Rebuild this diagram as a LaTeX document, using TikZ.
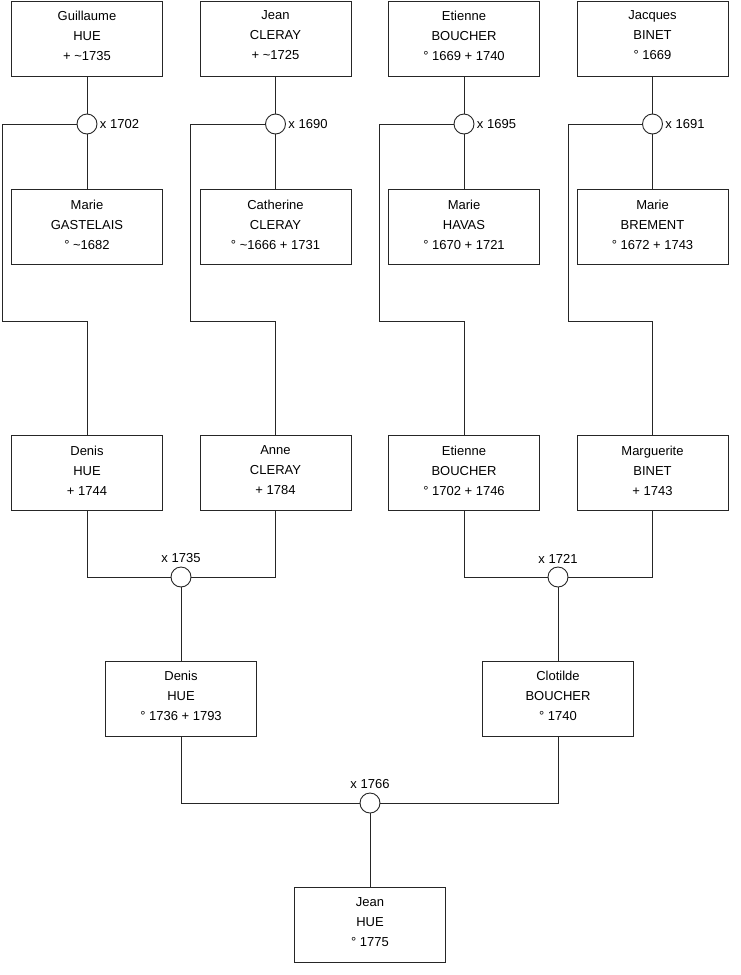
\documentclass[tikz,border=0pt]{standalone}
\usepackage{fontspec}
\setmainfont{Liberation Sans}
\usetikzlibrary{positioning}

\begin{document}
\begin{tikzpicture}[x=1pt, y=-1pt, font=\fontsize{13}{20}\selectfont,
  person/.style={draw=black!85, line width=0.9pt, align=center, text depth=6pt,
                 minimum width=151pt, minimum height=75pt, inner sep=0pt},
  wed/.style={draw=black!85, line width=0.9pt, circle, fill=white,
              minimum size=20pt, inner sep=0pt},
  link/.style={draw=black!85, line width=0.9pt}]

\useasboundingbox (0,0) rectangle (740,975);

% --- great-grandparents
\node[person] (a1) at (87,38.5) {Guillaume\\HUE\\+ \textasciitilde1735};
\node[person, below=113pt of a1] (a2) {Marie\\GASTELAIS\\° \textasciitilde1682};
\node[person, below=170pt of a2] (a3) {Denis\\HUE\\+ 1744};
\node[wed, label={[label distance=-1pt]right:x 1702}] (wa) at (87,124) {};
\coordinate (ka) at (2,321);

\node[person] (b1) at (275.5,38.5) {Jean\\CLERAY\\+ \textasciitilde1725};
\node[person, below=113pt of b1] (b2) {Catherine\\CLERAY\\° \textasciitilde1666 + 1731};
\node[person, below=170pt of b2] (b3) {Anne\\CLERAY\\+ 1784};
\node[wed, label={[label distance=-1pt]right:x 1690}] (wb) at (275.5,124) {};
\coordinate (kb) at (190,321);

\node[person] (c1) at (464,38.5) {Etienne\\BOUCHER\\° 1669 + 1740};
\node[person, below=113pt of c1] (c2) {Marie\\HAVAS\\° 1670 + 1721};
\node[person, below=170pt of c2] (c3) {Etienne\\BOUCHER\\° 1702 + 1746};
\node[wed, label={[label distance=-1pt]right:x 1695}] (wc) at (464,124) {};
\coordinate (kc) at (379,321);

\node[person] (d1) at (652.5,38.5) {Jacques\\BINET\\° 1669};
\node[person, below=113pt of d1] (d2) {Marie\\BREMENT\\° 1672 + 1743};
\node[person, below=170pt of d2] (d3) {Marguerite\\BINET\\+ 1743};
\node[wed, label={[label distance=-1pt]right:x 1691}] (wd) at (652.5,124) {};
\coordinate (kd) at (568,321);

% --- parents and child
\node[wed, label=above:x 1735] (we) at (181,577) {};
\node[wed, label=above:x 1721] (wf) at (558,577) {};
\node[person] (e1) at (181,699) {Denis\\HUE\\° 1736 + 1793};
\node[person] (f1) at (558,699) {Clotilde\\BOUCHER\\° 1740};
\node[wed, label=above:x 1766] (wg) at (370,803) {};
\node[person] (g1) at (370,925) {Jean\\HUE\\° 1775};

\draw[link] (a1) -- (wa) -- (a2);
\draw[link] (b1) -- (wb) -- (b2);
\draw[link] (c1) -- (wc) -- (c2);
\draw[link] (d1) -- (wd) -- (d2);
\draw[link] (wa) -| (ka) -| (a3);
\draw[link] (wb) -| (kb) -| (b3);
\draw[link] (wc) -| (kc) -| (c3);
\draw[link] (wd) -| (kd) -| (d3);

\draw[link] (a3) |- (we);
\draw[link] (b3) |- (we);
\draw[link] (we) -- (e1);
\draw[link] (c3) |- (wf);
\draw[link] (d3) |- (wf);
\draw[link] (wf) -- (f1);
\draw[link] (e1) |- (wg);
\draw[link] (f1) |- (wg);
\draw[link] (wg) -- (g1);
\end{tikzpicture}
\end{document}
